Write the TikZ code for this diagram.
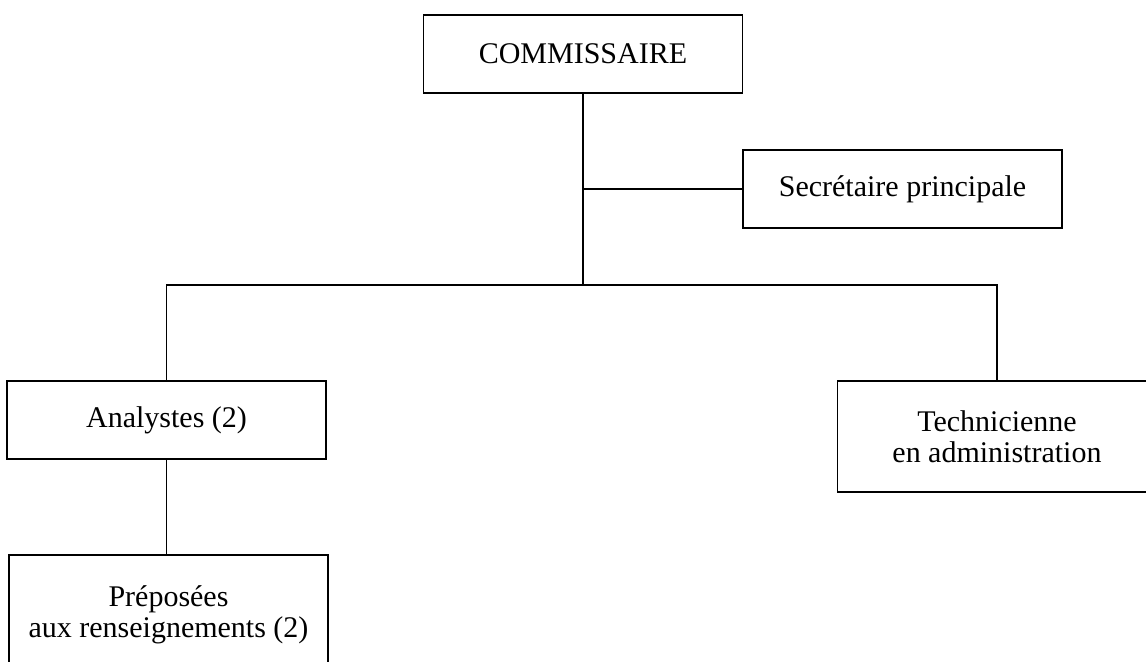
\documentclass[tikz,border=0pt]{standalone}
\usepackage{fontspec}
\setmainfont{Liberation Serif}
\begin{document}
\begin{tikzpicture}[x=0.5pt,y=-0.5pt,
  orgbox/.style={draw=black, line width=0.6pt, fill=white, minimum width=159.5pt, inner sep=0pt, align=center, font=\fontsize{15}{15.5}\selectfont},
  onebox/.style={orgbox, minimum height=39pt},
  twobox/.style={orgbox, minimum height=55.5pt},
  tallbox/.style={orgbox, minimum height=59.5pt},
  link/.style={draw=black, line width=0.6pt}]
\useasboundingbox (0,0) rectangle (1146,662);
\clip (0,0) rectangle (1146,662);
\fill[white] (0,0) rectangle (1146,662);
\node[onebox] (com) at (583,54) {COMMISSAIRE};
\node[onebox] (sec) at (902.5,189) {Secrétaire principale};
\node[onebox] (ana) at (166.5,420) {Analystes (2)};
\node[twobox] (tech) at (997,436.5) {Technicienne\\en administration};
\node[tallbox] (pre) at (168.5,614.5) {Préposées\\aux renseignements (2)};
\coordinate (bar) at (583,285);
\draw[link] (com.south) -- (bar);
\draw[link] (com.south |- sec.west) -- (sec.west);
\draw[link] (ana.north) |- (bar) -| (tech.north);
\draw[link] (ana.south) -- (ana.south |- pre.north);
\end{tikzpicture}
\end{document}
